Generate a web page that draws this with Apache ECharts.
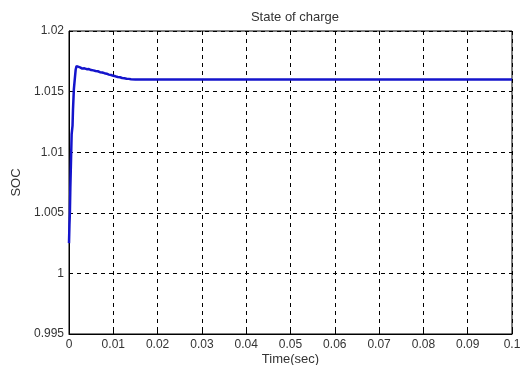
<!DOCTYPE html>
<html>
<head>
<meta charset="utf-8">
<script src="https://cdn.jsdelivr.net/npm/echarts@6/dist/echarts.min.js"></script>
<style>
  html, body { margin: 0; padding: 0; background: #fff; }
  #chart { width: 523px; height: 365px; }
</style>
</head>
<body>
<div id="chart"></div>
<script>
// State of charge over the first 0.1 s of the simulation
const timeSec = [
  0, 0.0001, 0.0002, 0.0003, 0.0004, 0.0005, 0.0006, 0.0008, 0.0009, 0.0011,
  0.0013, 0.0015, 0.0017, 0.0020, 0.0025, 0.0030, 0.0035, 0.0040, 0.0045,
  0.0050, 0.0055, 0.0060, 0.0065, 0.0070, 0.0075, 0.0080, 0.0085, 0.0090,
  0.0095, 0.0100, 0.0105, 0.0110, 0.0115, 0.0120, 0.0125, 0.0130, 0.0135,
  0.0140, 0.0150, 0.0200, 0.0300, 0.0500, 0.0700, 0.0900, 0.1000
];
const soc = [
  1.0025, 1.0040, 1.0050, 1.0070, 1.0085, 1.0100, 1.0115, 1.0122, 1.0135, 1.0152,
  1.0160, 1.0168, 1.01710, 1.01695, 1.01700, 1.01690, 1.01692, 1.01685, 1.01686,
  1.01678, 1.01675, 1.01670, 1.01668, 1.01660, 1.01658, 1.01652, 1.01648, 1.01640,
  1.01637, 1.01630, 1.01626, 1.01620, 1.01618, 1.01612, 1.01610, 1.01606, 1.01605,
  1.01602, 1.01600, 1.01600, 1.01600, 1.01600, 1.01600, 1.01600, 1.01600
];

const xTickLabels = ['0', '0.01', '0.02', '0.03', '0.04', '0.05', '0.06', '0.07', '0.08', '0.09', '0.1'];
const yTickLabels = ['0.995', '1', '1.005', '1.01', '1.015', '1.02'];

const chart = echarts.init(document.getElementById('chart'), null, { renderer: 'canvas' });

const fontFamily = 'Liberation Sans, Arial, sans-serif';
const tickFont = { fontFamily, fontSize: 12, color: '#333' };
const nameFont = { fontFamily, fontSize: 13, color: '#333' };

chart.setOption({
  animation: false,
  backgroundColor: '#fff',
  title: {
    text: 'State of charge',
    left: 290,
    top: 6,
    textAlign: 'center',
    textStyle: { fontFamily, fontSize: 13, fontWeight: 'normal', color: '#333' }
  },
  grid: {
    left: 69, right: 11, top: 31, bottom: 31,
    containLabel: false,
    outerBoundsMode: 'none',
    show: true, borderColor: '#000', borderWidth: 1, backgroundColor: '#fff'
  },
  xAxis: {
    type: 'value',
    min: 0, max: 0.1, interval: 0.01,
    name: 'Time(sec)',
    nameLocation: 'middle',
    nameGap: 19,
    nameMoveOverlap: false,
    nameTextStyle: nameFont,
    axisLine: { show: true, lineStyle: { color: '#000', width: 1 } },
    axisTick: { show: true, inside: true, length: 4, lineStyle: { color: '#000' } },
    axisLabel: {
      ...tickFont,
      margin: 5,
      formatter: (v) => xTickLabels[Math.round(v / 0.01)]
    },
    splitLine: { show: true, lineStyle: { color: '#000', type: [4, 4], width: 1 } }
  },
  yAxis: {
    type: 'value',
    min: 0.995, max: 1.02, interval: 0.005,
    name: 'SOC',
    nameLocation: 'middle',
    nameGap: 46,
    nameMoveOverlap: false,
    nameRotate: 90,
    nameTextStyle: nameFont,
    axisLine: { show: true, lineStyle: { color: '#000', width: 1 } },
    axisTick: { show: true, inside: true, length: 4, lineStyle: { color: '#000' } },
    axisLabel: {
      ...tickFont,
      margin: 5,
      formatter: (v) => yTickLabels[Math.round((v - 0.995) / 0.005)]
    },
    splitLine: { show: true, lineStyle: { color: '#000', type: [4, 4], width: 1 } }
  },
  series: [{
    type: 'line',
    data: timeSec.map((t, i) => [t, soc[i]]),
    showSymbol: false,
    lineStyle: { color: '#1414cc', width: 2.5 },
    z: 5
  }]
});
</script>
</body>
</html>
